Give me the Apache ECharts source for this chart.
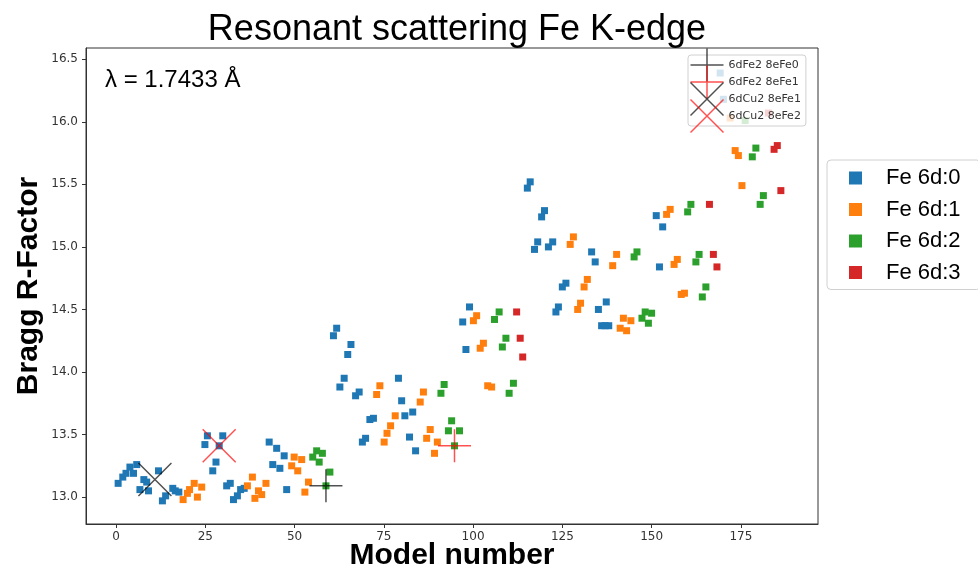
<!DOCTYPE html>
<html>
<head>
<meta charset="utf-8">
<script src="https://cdn.jsdelivr.net/npm/echarts@6/dist/echarts.min.js"></script>
<style>
  html, body { margin: 0; padding: 0; background: #fff; }
  #main { width: 978px; height: 568px; }
</style>
</head>
<body>
<div id="main"></div>
<script>
// tick labels
const xTicks = [0, 25, 50, 75, 100, 125, 150, 175];
const yTicks = [13.0, 13.5, 14.0, 14.5, 15.0, 15.5, 16.0, 16.5];

// Fe 6d:0 .. Fe 6d:3  [model number, Bragg R-factor]
const fe0 = [
  [0.6, 13.11], [1.9, 13.16], [2.8, 13.19], [3.9, 13.24], [4.9, 13.19], [5.8, 13.26],
  [6.7, 13.06], [7.8, 13.14], [8.6, 13.12], [9.1, 13.05], [11.9, 13.21], [13.0, 12.97],
  [13.9, 13.01], [15.9, 13.07], [16.6, 13.05], [17.6, 13.04],
  [24.9, 13.42], [25.6, 13.49], [27.1, 13.21], [28.0, 13.28], [28.9, 13.41], [29.9, 13.49],
  [31.0, 13.09], [32.0, 13.11], [32.9, 12.98], [34.0, 13.01], [34.9, 13.06], [35.9, 13.07],
  [42.9, 13.44], [43.9, 13.26], [45.0, 13.39], [45.9, 13.23], [47.1, 13.33], [47.8, 13.06],
  [60.9, 14.29], [61.8, 14.35], [62.7, 13.88], [63.9, 13.95], [64.9, 14.14], [65.8, 14.22],
  [67.1, 13.81], [68.1, 13.84], [69.0, 13.44], [69.9, 13.47], [71.1, 13.62], [72.1, 13.63],
  [79.1, 13.95], [80.0, 13.77], [80.9, 13.65], [82.2, 13.48], [83.1, 13.68], [83.9, 13.37],
  [97.1, 14.40], [98.0, 14.18], [99.0, 14.52],
  [115.2, 15.47], [116.0, 15.52], [117.2, 14.98], [118.1, 15.04], [119.2, 15.24], [120.0, 15.29],
  [121.1, 15.00], [122.3, 15.04], [123.2, 14.48], [123.9, 14.52], [125.0, 14.68], [126.0, 14.71],
  [133.2, 14.96], [134.2, 14.88], [135.1, 14.50], [136.0, 14.37], [137.0, 14.37], [137.3, 14.56],
  [138.0, 14.37],
  [151.3, 15.25], [152.2, 14.84], [153.1, 15.16],
  [169.2, 16.39], [170.1, 16.18]
];
const fe1 = [
  [18.8, 12.98], [20.0, 13.03], [20.6, 13.06], [21.9, 13.11], [22.8, 13.00], [24.0, 13.08],
  [36.8, 13.09], [38.2, 13.16], [38.9, 12.99], [39.9, 13.05], [40.8, 13.02], [42.0, 13.11],
  [49.2, 13.25], [49.9, 13.32], [50.9, 13.21], [52.0, 13.30], [52.9, 13.04], [53.9, 13.12],
  [73.0, 13.82], [73.9, 13.89], [75.1, 13.44], [75.9, 13.51], [76.9, 13.57], [78.2, 13.65],
  [85.2, 13.76], [86.1, 13.84], [87.0, 13.47], [88.0, 13.54], [89.2, 13.35], [90.0, 13.44],
  [100.1, 14.41], [101.0, 14.45], [102.0, 14.19], [102.9, 14.23], [104.1, 13.89], [105.2, 13.88],
  [127.2, 15.02], [128.1, 15.08], [129.3, 14.50], [130.1, 14.55], [131.1, 14.68], [132.0, 14.74],
  [139.1, 14.85], [140.2, 14.94], [141.2, 14.35], [142.1, 14.43], [143.0, 14.33], [144.2, 14.41],
  [154.2, 15.26], [155.2, 15.30], [156.3, 14.86], [157.2, 14.90], [158.3, 14.62], [159.2, 14.63],
  [172.0, 16.03], [173.4, 15.77], [174.3, 15.73], [175.3, 15.49]
];
const fe2 = [
  [55.1, 13.32], [56.2, 13.37], [56.9, 13.28], [57.8, 13.35], [58.8, 13.09], [59.9, 13.20],
  [91.0, 13.83], [91.9, 13.90], [93.1, 13.53], [94.0, 13.61], [94.8, 13.41], [96.2, 13.53],
  [106.0, 14.42], [107.3, 14.48], [108.2, 14.20], [109.2, 14.27], [110.1, 13.83], [111.3, 13.91],
  [145.1, 14.92], [145.9, 14.96], [147.3, 14.43], [148.2, 14.48], [149.1, 14.39], [150.0, 14.47],
  [160.1, 15.28], [161.0, 15.34], [162.4, 14.88], [163.3, 14.94], [164.2, 14.60], [165.2, 14.68],
  [176.2, 16.01], [178.2, 15.72], [179.2, 15.79], [180.4, 15.34], [181.3, 15.41]
];
const fe3 = [
  [112.2, 14.48], [113.2, 14.27], [113.9, 14.12],
  [166.2, 15.34], [167.3, 14.94], [168.3, 14.84],
  [182.7, 16.07], [184.3, 15.78], [185.2, 15.81], [186.2, 15.45]
];

// highlighted models
const fe2Fe0 = [[58.8, 13.09]];
const fe2Fe1 = [[94.8, 13.41]];
const cu2Fe1 = [[10.9, 13.14]];
const cu2Fe2 = [[28.9, 13.41]];

const plusPath = 'path://M16,0L16,32M0,16L32,16';
const crossPath = 'path://M0,0L32,32M32,0L0,32';

const groups = [
  { name: 'Fe 6d:0', data: fe0, color: '#1f77b4' },
  { name: 'Fe 6d:1', data: fe1, color: '#ff7f0e' },
  { name: 'Fe 6d:2', data: fe2, color: '#2ca02c' },
  { name: 'Fe 6d:3', data: fe3, color: '#d62728' }
];
const special = [
  { name: '6dFe2 8eFe0', data: fe2Fe0, color: 'rgba(0,0,0,0.85)', icon: plusPath },
  { name: '6dFe2 8eFe1', data: fe2Fe1, color: 'rgba(255,0,0,0.85)', icon: plusPath },
  { name: '6dCu2 8eFe1', data: cu2Fe1, color: 'rgba(0,0,0,0.85)', icon: crossPath },
  { name: '6dCu2 8eFe2', data: cu2Fe2, color: 'rgba(255,0,0,0.85)', icon: crossPath }
];

let series = groups.map(function (g) {
  return {
    name: g.name,
    type: 'scatter',
    data: g.data,
    symbol: 'rect',
    symbolSize: 7,
    itemStyle: { color: g.color, opacity: 1 },
    z: 2
  };
});
special.forEach(function (s) {
  series.push({
    name: s.name,
    type: 'scatter',
    data: s.data,
    symbol: s.icon,
    symbolSize: 33,
    itemStyle: { color: 'none', borderColor: s.color, borderWidth: 1.5 },
    z: 3
  });
});

let chart = echarts.init(document.getElementById('main'));
let option = {
  animation: false,
  backgroundColor: '#fff',
  title: [
    {
      text: 'Resonant scattering Fe K-edge',
      left: 452, top: 7, textAlign: 'center',
      textStyle: { fontFamily: 'Liberation Sans', fontSize: 36, fontWeight: 'normal', color: '#000' }
    },
    {
      text: 'λ = 1.7433 Å',
      left: 100, top: 63,
      textStyle: { fontFamily: 'Liberation Sans', fontSize: 24, fontWeight: 'normal', color: '#000' }
    }
  ],
  grid: {
    left: 86, right: 160, top: 48, bottom: 44,
    outerBoundsMode: 'none',
    containLabel: false,
    show: true, borderColor: '#333', borderWidth: 1
  },
  legend: [
    {
      data: groups.map(function (g) { return g.name; }),
      orient: 'vertical',
      left: 827, top: 160,
      icon: 'rect',
      itemWidth: 13, itemHeight: 13, itemGap: 9.5,
      padding: [7, 20, 6, 22],
      borderColor: '#d0d0d0', borderWidth: 1, borderRadius: 4,
      backgroundColor: '#fff',
      textStyle: { fontFamily: 'Liberation Sans', fontSize: 22, lineHeight: 22, color: '#000', padding: [0, 0, 0, 19] }
    },
    {
      data: special.map(function (s) {
        return {
          name: s.name, icon: s.icon,
          itemStyle: { color: 'none', borderColor: s.color, borderWidth: 1.5 }
        };
      }),
      orient: 'vertical',
      left: 688, top: 55,
      itemWidth: 33, itemHeight: 33, itemGap: -21,
      padding: [-9, 5, -9, 0],
      borderColor: '#d0d0d0', borderWidth: 1, borderRadius: 3,
      backgroundColor: 'rgba(255,255,255,0.8)',
      textStyle: { fontFamily: 'DejaVu Sans', fontSize: 11, color: '#333' }
    }
  ],
  xAxis: {
    type: 'value',
    min: -8.4, max: 196.6,
    name: 'Model number',
    nameLocation: 'middle',
    nameGap: 17,
    nameMoveOverlap: false,
    nameTextStyle: { fontFamily: 'Liberation Sans', fontSize: 30, fontWeight: 'bold', color: '#000' },
    splitLine: { show: false },
    axisLine: { show: true, onZero: false, lineStyle: { color: '#333' } },
    axisTick: { show: true, length: 4, customValues: xTicks, lineStyle: { color: '#333' } },
    axisLabel: {
      customValues: xTicks, margin: 7,
      fontFamily: 'DejaVu Sans', fontSize: 12, color: '#333'
    }
  },
  yAxis: {
    type: 'value',
    min: 12.785, max: 16.59,
    name: 'Bragg R-Factor',
    nameLocation: 'middle',
    nameGap: 42,
    nameMoveOverlap: false,
    nameRotate: 90,
    nameTextStyle: { fontFamily: 'Liberation Sans', fontSize: 30, fontWeight: 'bold', color: '#000' },
    splitLine: { show: false },
    axisLine: { show: true, onZero: false, lineStyle: { color: '#333' } },
    axisTick: { show: true, length: 4, customValues: yTicks, lineStyle: { color: '#333' } },
    axisLabel: {
      customValues: yTicks, margin: 8,
      fontFamily: 'DejaVu Sans', fontSize: 12, color: '#333',
      formatter: function (v) { return v.toFixed(1); }
    }
  },
  series: series
};
chart.setOption(option);
window.addEventListener('resize', () => {
  chart.resize();
});
</script>
</body>
</html>
